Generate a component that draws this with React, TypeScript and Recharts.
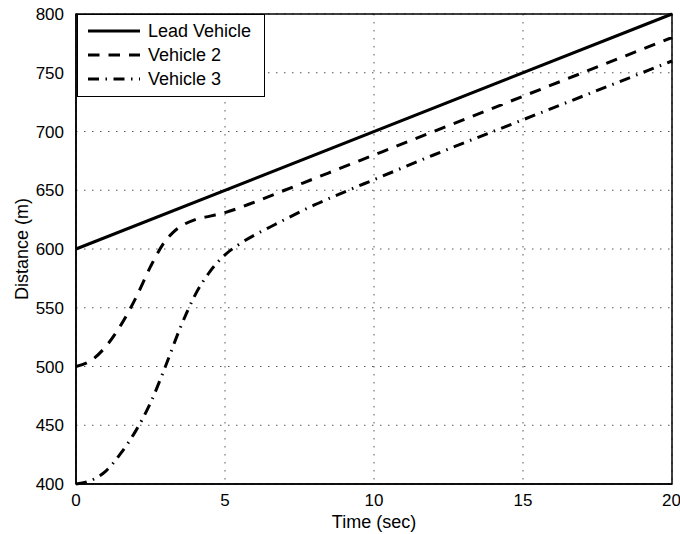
import { LineChart, Line, XAxis, YAxis, CartesianGrid, ReferenceArea } from "recharts";

// Time (s) / distance (m) samples for each vehicle
const leadTime = [0, 20];
const leadDist = [600, 800];

const v2Time = [0, 0.5, 1, 1.5, 2, 2.5, 3, 3.25, 3.5, 4, 4.5, 5, 6, 7, 8, 10, 15, 20];
const v2Dist = [500, 505, 517, 535, 558, 585, 607, 614, 619, 625, 628, 631, 640, 650, 660, 680, 730, 780];

const v3Time = [0, 0.5, 1, 1.5, 2, 2.5, 3, 3.5, 4, 4.5, 5, 5.5, 6, 6.5, 7, 8, 9, 10, 12, 15, 20];
const v3Dist = [400, 403, 411, 426, 445, 469, 500, 533, 561, 581, 595, 604.5, 612, 618.5, 625, 637.5, 648.5, 659, 680, 710, 760];

const xTicks = [0, 5, 10, 15, 20];
const yTicks = [400, 450, 500, 550, 600, 650, 700, 750, 800];

const toPoints = (ts: number[], ds: number[]) => ts.map((t, i) => ({ t, d: ds[i] }));

const series = [
  { name: "Lead Vehicle", data: toPoints(leadTime, leadDist), dash: undefined as string | undefined },
  { name: "Vehicle 2", data: toPoints(v2Time, v2Dist), dash: "11.5 9" },
  { name: "Vehicle 3", data: toPoints(v3Time, v3Dist), dash: "11 6.5 1.5 6.5" },
];

const FONT = "'Liberation Sans', Arial, sans-serif";
const TICK_FONT = 17;
const LABEL_FONT = 18;

function LegendBox() {
  return (
    <div
      style={{
        position: "absolute",
        left: 77,
        top: 14,
        width: 188,
        height: 83,
        border: "1.5px solid #000",
        background: "#fff",
        fontFamily: FONT,
        fontSize: LABEL_FONT,
        color: "#000",
        boxSizing: "border-box",
        paddingTop: 4,
      }}
    >
      {series.map((s) => (
        <div key={s.name} style={{ display: "flex", alignItems: "center", height: 24 }}>
          <svg width={62} height={10} style={{ marginLeft: 9 }}>
            <line x1={1} y1={5} x2={53} y2={5} stroke="#000" strokeWidth={3} strokeDasharray={s.dash} />
          </svg>
          <span style={{ marginLeft: -1 }}>{s.name}</span>
        </div>
      ))}
    </div>
  );
}

export default function App() {
  return (
    <div style={{ position: "absolute", left: 0, top: 0, width: 680, height: 534, background: "#fff" }}>
      <LineChart
        width={680}
        height={534}
        margin={{ top: 14, right: 8, left: 16, bottom: 0 }}
        style={{ fontFamily: FONT }}
      >
        <CartesianGrid xAxisId="b" yAxisId="l" stroke="#555" strokeDasharray="1.5 6.5" strokeWidth={1} />
        <XAxis
          xAxisId="b"
          type="number"
          dataKey="t"
          domain={[0, 20]}
          ticks={xTicks}
          height={50}
          stroke="#000"
          strokeWidth={1.5}
          tickLine={false}
          tickMargin={4}
          tick={{ fill: "#000", fontSize: TICK_FONT }}
          label={{ value: "Time (sec)", position: "insideBottom", offset: 6, fill: "#000", fontSize: LABEL_FONT }}
        />
        {/* inward tick marks on all four sides */}
        <XAxis
          xAxisId="bm"
          type="number"
          domain={[0, 20]}
          ticks={xTicks}
          mirror
          height={0}
          axisLine={false}
          tickLine={{ stroke: "#000", strokeWidth: 1 }}
          tickSize={5}
          tickFormatter={() => ""}
        />
        <XAxis
          xAxisId="tm"
          orientation="top"
          type="number"
          domain={[0, 20]}
          ticks={xTicks}
          mirror
          height={0}
          axisLine={false}
          tickLine={{ stroke: "#000", strokeWidth: 1 }}
          tickSize={5}
          tickFormatter={() => ""}
        />
        <YAxis
          yAxisId="l"
          type="number"
          domain={[400, 800]}
          ticks={yTicks}
          width={60}
          stroke="#000"
          strokeWidth={1.5}
          tickLine={false}
          tickMargin={6}
          tick={{ fill: "#000", fontSize: TICK_FONT }}
          label={{
            value: "Distance (m)",
            angle: -90,
            position: "insideLeft",
            offset: 6,
            fill: "#000",
            fontSize: LABEL_FONT,
            style: { textAnchor: "middle" },
          }}
        />
        <YAxis
          yAxisId="lm"
          type="number"
          domain={[400, 800]}
          ticks={yTicks}
          mirror
          width={0}
          axisLine={false}
          tickLine={{ stroke: "#000", strokeWidth: 1 }}
          tickSize={5}
          tickFormatter={() => ""}
        />
        <YAxis
          yAxisId="rm"
          orientation="right"
          type="number"
          domain={[400, 800]}
          ticks={yTicks}
          mirror
          width={0}
          axisLine={false}
          tickLine={{ stroke: "#000", strokeWidth: 1 }}
          tickSize={5}
          tickFormatter={() => ""}
        />
        {/* axes box */}
        <ReferenceArea
          xAxisId="b"
          yAxisId="l"
          x1={0}
          x2={20}
          y1={400}
          y2={800}
          fill="none"
          stroke="#000"
          strokeWidth={1.5}
          ifOverflow="visible"
        />
        {series.map((s) => (
          <Line
            key={s.name}
            xAxisId="b"
            yAxisId="l"
            data={s.data}
            dataKey="d"
            name={s.name}
            type="monotone"
            stroke="#000"
            strokeWidth={3}
            strokeDasharray={s.dash}
            dot={false}
            activeDot={false}
            isAnimationActive={false}
          />
        ))}
      </LineChart>
      <LegendBox />
    </div>
  );
}
